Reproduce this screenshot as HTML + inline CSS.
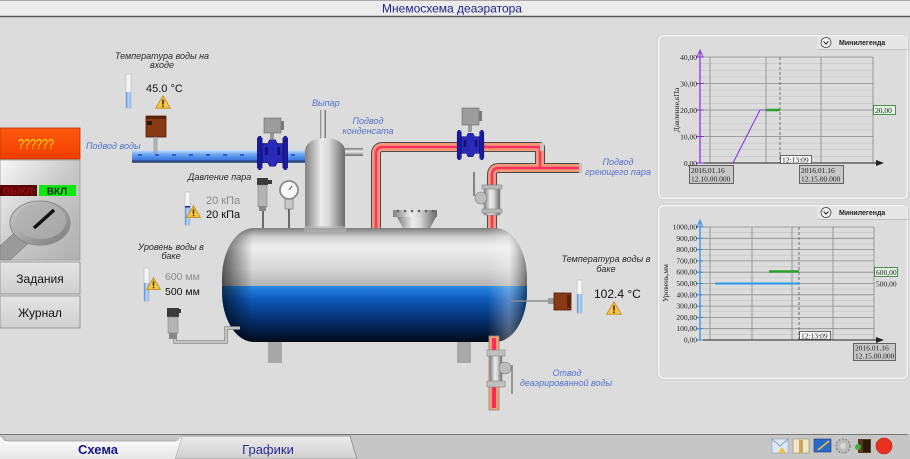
<!DOCTYPE html>
<html><head><meta charset="utf-8"><style>
html,body{margin:0;padding:0;width:910px;height:459px;overflow:hidden;background:#dcdcdc}
svg{display:block}
text{font-family:"Liberation Sans",sans-serif}
.it{font-style:italic;font-size:9px;fill:#2a2a2a}
.bl{font-style:italic;font-size:9px;fill:#5470d0}
.ser{font-family:"Liberation Serif",serif;font-size:7.5px;fill:#222}
</style></head><body>
<svg width="910" height="459" viewBox="0 0 910 459" xmlns="http://www.w3.org/2000/svg">
<defs>
<linearGradient id="tankTop" x1="0" y1="228" x2="0" y2="287" gradientUnits="userSpaceOnUse">
<stop offset="0" stop-color="#7c7c7c"/><stop offset="0.15" stop-color="#d0d0d0"/><stop offset="0.32" stop-color="#eeeeee"/><stop offset="0.7" stop-color="#d6d6d6"/><stop offset="1" stop-color="#b0b0b0"/></linearGradient>
<linearGradient id="tankBlue" x1="0" y1="286" x2="0" y2="342" gradientUnits="userSpaceOnUse">
<stop offset="0" stop-color="#2a86e6"/><stop offset="0.25" stop-color="#0c58b8"/><stop offset="0.6" stop-color="#063070"/><stop offset="1" stop-color="#010a1a"/></linearGradient>
<linearGradient id="tankEnd" x1="222" y1="0" x2="527" y2="0" gradientUnits="userSpaceOnUse">
<stop offset="0" stop-color="#000" stop-opacity="0.6"/><stop offset="0.1" stop-color="#000" stop-opacity="0"/><stop offset="0.87" stop-color="#fff" stop-opacity="0"/><stop offset="0.94" stop-color="#fff" stop-opacity="0.3"/><stop offset="1" stop-color="#000" stop-opacity="0.45"/></linearGradient>
<linearGradient id="cyl" x1="0" y1="0" x2="1" y2="0">
<stop offset="0" stop-color="#808080"/><stop offset="0.4" stop-color="#ececec"/><stop offset="0.6" stop-color="#d8d8d8"/><stop offset="1" stop-color="#6a6a6a"/></linearGradient>
<linearGradient id="cylV" x1="0" y1="0" x2="0" y2="1">
<stop offset="0" stop-color="#7a7a7a"/><stop offset="0.45" stop-color="#eeeeee"/><stop offset="1" stop-color="#6a6a6a"/></linearGradient>
<linearGradient id="bpipe" x1="0" y1="0" x2="0" y2="1">
<stop offset="0" stop-color="#c8e0fa"/><stop offset="0.35" stop-color="#6aa6f0"/><stop offset="0.75" stop-color="#3c7ae0"/><stop offset="0.85" stop-color="#24407a"/><stop offset="1" stop-color="#5a6a88"/></linearGradient>
<linearGradient id="redbox" x1="0" y1="0" x2="0" y2="1">
<stop offset="0" stop-color="#ff5a10"/><stop offset="1" stop-color="#f03e00"/></linearGradient>
<linearGradient id="swp" x1="0" y1="0" x2="1" y2="1">
<stop offset="0" stop-color="#f8f8f8"/><stop offset="0.5" stop-color="#c8c8c8"/><stop offset="1" stop-color="#b0b0b0"/></linearGradient>
<linearGradient id="btn" x1="0" y1="0" x2="0" y2="1">
<stop offset="0" stop-color="#e4e4e4"/><stop offset="1" stop-color="#cfcfcf"/></linearGradient>
<linearGradient id="knob" x1="0" y1="0" x2="1" y2="1">
<stop offset="0" stop-color="#d0d0d0"/><stop offset="1" stop-color="#7a7a7a"/></linearGradient>
<linearGradient id="tab1" x1="0" y1="0" x2="0" y2="1">
<stop offset="0" stop-color="#ffffff"/><stop offset="1" stop-color="#e6e6e6"/></linearGradient>
<linearGradient id="tab2" x1="0" y1="0" x2="0" y2="1">
<stop offset="0" stop-color="#ececec"/><stop offset="1" stop-color="#cfcfcf"/></linearGradient>
<linearGradient id="thermo" x1="0" y1="0" x2="1" y2="0">
<stop offset="0" stop-color="#5080c8"/><stop offset="0.4" stop-color="#b8d8f8"/><stop offset="1" stop-color="#8ab8e8"/></linearGradient>
<symbol id="warn" viewBox="0 0 16 14">
<polygon points="8,0.8 15.3,13.3 0.7,13.3" fill="#f6c848" stroke="#c89020" stroke-width="1"/>
<rect x="7.2" y="4.5" width="1.6" height="5" fill="#3a2a00"/><rect x="7.2" y="10.5" width="1.6" height="1.6" fill="#3a2a00"/>
</symbol>
<symbol id="bvalve" viewBox="0 0 32 36">
<rect x="0" y="2" width="5" height="32" fill="#1a1aa0" stroke="#0a0a60" stroke-width="0.6"/>
<rect x="27" y="2" width="5" height="32" fill="#1a1aa0" stroke="#0a0a60" stroke-width="0.6"/>
<path d="M5 8 H11 L13 4 H19 L21 8 H27 V28 H21 L19 32 H13 L11 28 H5 Z" fill="#2a2ab8" stroke="#0a0a60" stroke-width="0.6"/>
<rect x="8" y="12" width="3" height="8" fill="#101070"/><rect x="21" y="12" width="3" height="8" fill="#101070"/>
<rect x="1" y="0" width="3" height="3" fill="#1a1aa0"/><rect x="28" y="0" width="3" height="3" fill="#1a1aa0"/>
<rect x="1" y="33" width="3" height="3" fill="#1a1aa0"/><rect x="28" y="33" width="3" height="3" fill="#1a1aa0"/>
</symbol>
</defs>

<!-- title bar -->
<rect x="0" y="0" width="910" height="16" fill="#ececec"/>
<line x1="0" y1="0.5" x2="910" y2="0.5" stroke="#a8a8a8"/>
<line x1="0" y1="16.5" x2="910" y2="16.5" stroke="#5a5a5a" stroke-width="1.5"/>
<text x="452" y="12.5" font-size="12" fill="#1e2488" text-anchor="middle">Мнемосхема деаэратора</text>

<!-- left panel -->
<rect x="0" y="128" width="80" height="31" fill="url(#redbox)" stroke="#b83000" stroke-width="0.8"/>
<text x="18" y="149" font-size="15" fill="#ffe600" textLength="36" lengthAdjust="spacingAndGlyphs">??????</text>
<rect x="0" y="160" width="80" height="100" fill="url(#swp)" stroke="#9a9a9a" stroke-width="0.8"/>
<rect x="0" y="185" width="37" height="11" fill="#5a0404"/>
<text x="18" y="194.5" font-size="10" font-weight="bold" fill="#9a0e0e" text-anchor="middle">ВЫКЛ</text>
<rect x="39" y="185" width="37" height="11" fill="#12e612"/>
<text x="57" y="194.5" font-size="10" font-weight="bold" fill="#053005" text-anchor="middle">ВКЛ</text>
<polygon points="0,246 24,224 36,236 10,260 0,260" fill="#9a9a9a" stroke="#7a7a7a" stroke-width="0.6"/>
<ellipse cx="40" cy="223" rx="30" ry="22" fill="url(#knob)" stroke="#8a8a8a"/>
<ellipse cx="41" cy="221" rx="25" ry="18" fill="#b0b0b0" opacity="0.8"/>
<line x1="34" y1="228" x2="54" y2="210" stroke="#111" stroke-width="3.5"/>
<rect x="0" y="262" width="80" height="32" fill="url(#btn)" stroke="#8a8a8a" stroke-width="0.8"/>
<text x="40" y="283" font-size="12" fill="#111" text-anchor="middle">Задания</text>
<rect x="0" y="296" width="80" height="32" fill="url(#btn)" stroke="#8a8a8a" stroke-width="0.8"/>
<text x="40" y="317" font-size="12" fill="#111" text-anchor="middle">Журнал</text>

<!-- water inlet pipe -->
<rect x="132" y="150" width="176" height="13" fill="url(#bpipe)"/>
<line x1="138" y1="155" x2="300" y2="155" stroke="#1a46c8" stroke-width="1.6" stroke-dasharray="4 13"/>
<text x="86" y="149" class="bl">Подвод воды</text>

<!-- inlet temperature -->
<text x="162" y="59" class="it" text-anchor="middle">Температура воды на</text>
<text x="162" y="68" class="it" text-anchor="middle">входе</text>
<rect x="126" y="74" width="5" height="34" fill="#f4f4f4" stroke="#b0b0b0" stroke-width="0.5"/>
<rect x="126" y="92" width="5" height="16" fill="url(#thermo)"/>
<text x="146" y="92" font-size="11" fill="#111">45.0 °С</text>
<use href="#warn" x="155" y="95" width="16" height="14"/>
<rect x="146" y="116" width="20" height="21" fill="#8a3a12" stroke="#4a1a04" stroke-width="0.8"/>
<rect x="146" y="116" width="20" height="3" fill="#5a2206"/>
<rect x="147" y="121" width="5" height="4" fill="#2a1a0a"/>
<rect x="154" y="137" width="3" height="16" fill="#b8b8b8" stroke="#7a7a7a" stroke-width="0.5"/>

<!-- water valve -->
<rect x="270" y="131" width="4" height="8" fill="#9a9a9a"/>
<rect x="264" y="118" width="17" height="15" fill="#9c9c9c" stroke="#6a6a6a" stroke-width="0.6"/>
<rect x="281" y="121" width="3" height="9" fill="#7a7a7a"/>
<use href="#bvalve" x="257" y="136" width="31" height="34"/>

<!-- deaerator column -->
<rect x="320" y="110" width="6" height="32" fill="url(#cyl)"/>
<rect x="343" y="148" width="20" height="8" fill="url(#cylV)"/>
<path d="M305 232 V152 Q305 139 325 138 Q345 139 345 152 V232 Z" fill="url(#cyl)"/>
<text x="312" y="106" class="bl">Выпар</text>
<text x="368" y="124" class="bl" text-anchor="middle">Подвод</text>
<text x="368" y="134" class="bl" text-anchor="middle">конденсата</text>

<!-- steam pipes -->
<g fill="none" stroke-linejoin="round">
<path d="M376 230 V154 Q376 147 383 147 H540 V168 M492 230 V175 Q492 168 499 168 H581" stroke="#4a4a4a" stroke-width="10"/>
<path d="M376 230 V154 Q376 147 383 147 H540 V168 M492 230 V175 Q492 168 499 168 H581" stroke="#f29a78" stroke-width="8"/>
<path d="M376 230 V154 Q376 147 383 147 H540 V168 M492 230 V175 Q492 168 499 168 H581" stroke="#ff3060" stroke-width="2.5"/>
</g>
<rect x="540" y="143" width="4" height="8" fill="#c8c8c8"/>
<rect x="579" y="163" width="3" height="10" fill="#c0c0c0"/>
<text x="618" y="165" class="bl" text-anchor="middle">Подвод</text>
<text x="618" y="175" class="bl" text-anchor="middle">греющего пара</text>
<!-- steam valve -->
<rect x="468" y="124" width="4" height="8" fill="#9a9a9a"/>
<rect x="462" y="108" width="17" height="17" fill="#9c9c9c" stroke="#6a6a6a" stroke-width="0.6"/>
<rect x="479" y="111" width="3" height="10" fill="#7a7a7a"/>
<use href="#bvalve" x="455" y="130" width="31" height="30"/>
<!-- gate valve on steam -->
<line x1="474" y1="172" x2="474" y2="196" stroke="#6a6a6a" stroke-width="1.5"/>
<rect x="484" y="185" width="16" height="30" fill="url(#cyl)" stroke="#888" stroke-width="0.5"/>
<rect x="482" y="185" width="20" height="4" fill="#b8b8b8" stroke="#777" stroke-width="0.5"/>
<rect x="482" y="209" width="20" height="4" fill="#b8b8b8" stroke="#777" stroke-width="0.5"/>
<circle cx="481" cy="198" r="6" fill="#bdbdbd" stroke="#777" stroke-width="0.6"/>

<!-- manhole -->
<path d="M397 217 H436 L428 232 H405 Z" fill="url(#cyl)"/>
<rect x="393" y="210" width="44" height="7" fill="url(#cyl)"/>
<g fill="#666"><circle cx="398" cy="211" r="1.3"/><circle cx="405" cy="211" r="1.3"/><circle cx="412" cy="211" r="1.3"/><circle cx="419" cy="211" r="1.3"/><circle cx="426" cy="211" r="1.3"/><circle cx="433" cy="211" r="1.3"/></g>

<!-- pressure instruments -->
<text x="188" y="180" class="it" font-size="9.5">Давление пара</text>
<rect x="185" y="192" width="5" height="33" fill="#f4f4f4" stroke="#b0b0b0" stroke-width="0.5"/>
<rect x="185" y="207" width="5" height="18" fill="url(#thermo)"/>
<rect x="185" y="206" width="5" height="1.5" fill="#1a2a9a"/>
<use href="#warn" x="186" y="205" width="15" height="13"/>
<text x="206" y="204" font-size="11" fill="#8a8a8a">20 кПа</text>
<text x="206" y="218" font-size="11" fill="#111">20 кПа</text>
<rect x="262" y="210" width="2" height="22" fill="#6a6a6a"/>
<rect x="257" y="178" width="11" height="7" fill="#3a3a3a"/>
<rect x="266" y="180" width="6" height="4" fill="#3a3a3a"/>
<rect x="258" y="185" width="9" height="22" fill="#b4b4b4" stroke="#777" stroke-width="0.5"/>
<rect x="259" y="206" width="7" height="5" fill="#888"/>
<rect x="288" y="200" width="2" height="32" fill="#6a6a6a"/>
<rect x="285" y="199" width="8" height="10" fill="#c8c8c8" stroke="#666" stroke-width="0.6"/>
<circle cx="289" cy="190" r="9" fill="#f8f8f8" stroke="#8a8a8a" stroke-width="1.8"/>
<line x1="289" y1="190" x2="292" y2="186" stroke="#333" stroke-width="0.8"/>

<!-- tank -->
<rect x="268" y="336" width="14" height="27" fill="#a8a8a8"/>
<rect x="457" y="336" width="14" height="27" fill="#a8a8a8"/>
<clipPath id="tc"><rect x="222" y="228" width="305" height="114" rx="32" ry="50"/></clipPath>
<g clip-path="url(#tc)">
<rect x="222" y="228" width="305" height="59" fill="url(#tankTop)"/>
<rect x="222" y="286" width="305" height="56" fill="url(#tankBlue)"/>
<rect x="222" y="228" width="305" height="114" fill="url(#tankEnd)"/>
</g>
<rect x="304" y="226" width="42" height="6" fill="#b8b8b8" opacity="0.6"/>

<!-- level -->
<text x="171" y="250" class="it" font-size="8.5" text-anchor="middle">Уровень воды в</text>
<text x="171" y="259" class="it" font-size="8.5" text-anchor="middle">баке</text>
<rect x="144" y="268" width="5" height="33" fill="#f4f4f4" stroke="#b0b0b0" stroke-width="0.5"/>
<rect x="144" y="283" width="5" height="18" fill="url(#thermo)"/>
<use href="#warn" x="146" y="277" width="15" height="13"/>
<text x="165" y="280" font-size="10.5" fill="#8a8a8a">600 мм</text>
<text x="165" y="295" font-size="10.5" fill="#111">500 мм</text>
<path d="M175 338 V342 H226 V328 H240" fill="none" stroke="#8a8a8a" stroke-width="3.5"/>
<path d="M175 338 V342 H226 V328 H240" fill="none" stroke="#d8d8d8" stroke-width="1.5"/>
<rect x="167" y="308" width="12" height="9" fill="#3a3a3a"/>
<rect x="176" y="309" width="5" height="4" fill="#3a3a3a"/>
<rect x="168" y="317" width="10" height="16" fill="#b4b4b4" stroke="#777" stroke-width="0.5"/>
<rect x="169" y="333" width="8" height="6" fill="#888"/>

<!-- tank temperature -->
<text x="606" y="262" class="it" text-anchor="middle">Температура воды в</text>
<text x="606" y="272" class="it" text-anchor="middle">баке</text>
<line x1="510" y1="301" x2="553" y2="301" stroke="#8a8a8a" stroke-width="1.5"/>
<rect x="548" y="298" width="6" height="6" fill="#9a9a9a"/>
<rect x="554" y="293" width="17" height="17" fill="#8a3a12" stroke="#4a1a04" stroke-width="0.8"/>
<rect x="567" y="295" width="4" height="13" fill="#5a2206"/>
<rect x="577" y="280" width="5" height="33" fill="#f4f4f4" stroke="#b0b0b0" stroke-width="0.5"/>
<rect x="577" y="294" width="5" height="19" fill="url(#thermo)"/>
<text x="594" y="298" font-size="12" fill="#111">102.4 °С</text>
<use href="#warn" x="606" y="301" width="16" height="14"/>

<!-- outlet -->
<rect x="489" y="336" width="10" height="74" fill="#f2a070" stroke="#8a8a8a" stroke-width="0.8"/>
<rect x="492" y="338" width="4" height="70" fill="#ff2a58"/>
<rect x="490" y="355" width="12" height="32" fill="url(#cyl)" stroke="#888" stroke-width="0.5"/>
<rect x="487" y="350" width="18" height="6" fill="#c0c0c0" stroke="#777" stroke-width="0.5"/>
<rect x="487" y="381" width="18" height="6" fill="#c0c0c0" stroke="#777" stroke-width="0.5"/>
<circle cx="505" cy="368" r="6" fill="#bdbdbd" stroke="#777" stroke-width="0.6"/>
<line x1="512" y1="365" x2="512" y2="394" stroke="#6a6a6a" stroke-width="1.2"/>
<text x="567" y="376" class="bl" text-anchor="middle">Отвод</text>
<text x="566" y="386" class="bl" text-anchor="middle">деаэрированной воды</text>

<!-- chart panel 1 -->
<rect x="658.5" y="35.5" width="249" height="163" rx="5" fill="#dcdcdc" stroke="#f6f6f6" stroke-width="1.5"/>
<rect x="657.5" y="34.5" width="251" height="165" rx="6" fill="none" stroke="#c4c4c4" stroke-width="0.6"/>
<rect x="817" y="36" width="91" height="13" fill="#e6e6e6"/>
<line x1="817" y1="49.5" x2="908" y2="49.5" stroke="#c0c0c0"/>
<circle cx="826" cy="42.5" r="5" fill="#f4f4f4" stroke="#444" stroke-width="0.8"/>
<path d="M823.5 41.5 L826 44 L828.5 41.5" fill="none" stroke="#222" stroke-width="1"/>
<text x="839" y="45" font-size="7" font-weight="bold" fill="#222">Минилегенда</text>
<g stroke="#c2c2c2" stroke-width="0.6">
<line x1="700" y1="63.6" x2="873" y2="63.6"/><line x1="700" y1="70.25" x2="873" y2="70.25"/><line x1="700" y1="76.9" x2="873" y2="76.9"/>
<line x1="700" y1="90.1" x2="873" y2="90.1"/><line x1="700" y1="96.75" x2="873" y2="96.75"/><line x1="700" y1="103.4" x2="873" y2="103.4"/>
<line x1="700" y1="116.6" x2="873" y2="116.6"/><line x1="700" y1="123.25" x2="873" y2="123.25"/><line x1="700" y1="129.9" x2="873" y2="129.9"/>
<line x1="700" y1="143.1" x2="873" y2="143.1"/><line x1="700" y1="149.75" x2="873" y2="149.75"/><line x1="700" y1="156.4" x2="873" y2="156.4"/>
</g>
<g stroke="#8a8a8a" stroke-width="0.8">
<line x1="700" y1="57" x2="873" y2="57"/><line x1="700" y1="83.5" x2="873" y2="83.5"/><line x1="700" y1="110" x2="873" y2="110"/><line x1="700" y1="136.5" x2="873" y2="136.5"/>
<line x1="710" y1="57" x2="710" y2="163"/><line x1="766" y1="57" x2="766" y2="163"/><line x1="821" y1="57" x2="821" y2="163"/><line x1="873" y1="57" x2="873" y2="163"/>
</g>
<line x1="780" y1="57" x2="780" y2="163" stroke="#666" stroke-width="0.9" stroke-dasharray="3 2"/>
<line x1="700" y1="163" x2="880" y2="163" stroke="#222" stroke-width="1"/>
<polygon points="876,160 884,163 876,166" fill="#222"/>
<line x1="700" y1="52" x2="700" y2="163" stroke="#8a2ae0" stroke-width="1.2"/>
<polygon points="697,57 700,50 703,57" fill="none" stroke="#8a2ae0" stroke-width="0.9"/>
<g stroke="#8a2ae0" stroke-width="1"><line x1="696" y1="57" x2="704" y2="57"/><line x1="696" y1="83.5" x2="704" y2="83.5"/><line x1="696" y1="110" x2="704" y2="110"/><line x1="696" y1="136.5" x2="704" y2="136.5"/><line x1="696" y1="163" x2="704" y2="163"/></g>
<polyline points="733,163 760,110 766,110" fill="none" stroke="#8a2ae0" stroke-width="1"/>
<line x1="766" y1="110" x2="780" y2="110" stroke="#2aa02a" stroke-width="2.5"/>
<g text-anchor="end">
<text x="697" y="60" class="ser">40,00</text><text x="697" y="86.5" class="ser">30,00</text><text x="697" y="113" class="ser">20,00</text><text x="697" y="139.5" class="ser">10,00</text><text x="697" y="166" class="ser">0,00</text>
</g>
<text transform="translate(679,110) rotate(-90)" class="ser" text-anchor="middle">Давление,кПа</text>
<rect x="873.5" y="105.5" width="22" height="9" fill="#e4f4e4" stroke="#2a7a2a" stroke-width="0.8"/>
<text x="875" y="113" class="ser">20,00</text>
<rect x="780.5" y="155.5" width="31" height="8" fill="#f8f8f8" stroke="#333" stroke-width="0.7"/>
<text x="782" y="162.5" class="ser">12:13:09</text>
<rect x="689.5" y="165.5" width="44" height="18" fill="#c8c8c8" stroke="#333" stroke-width="0.7"/>
<text x="691" y="173" class="ser">2016.01.16</text><text x="691" y="181.5" class="ser">12.10.00.000</text>
<rect x="799.5" y="165.5" width="44" height="18" fill="#c8c8c8" stroke="#333" stroke-width="0.7"/>
<text x="801" y="173" class="ser">2016.01.16</text><text x="801" y="181.5" class="ser">12.15.00.000</text>

<!-- chart panel 2 -->
<rect x="658.5" y="205.5" width="249" height="173" rx="5" fill="#dcdcdc" stroke="#f6f6f6" stroke-width="1.5"/>
<rect x="657.5" y="204.5" width="251" height="175" rx="6" fill="none" stroke="#c4c4c4" stroke-width="0.6"/>
<rect x="817" y="206" width="91" height="13" fill="#e6e6e6"/>
<line x1="817" y1="219.5" x2="908" y2="219.5" stroke="#c0c0c0"/>
<circle cx="826" cy="212.5" r="5" fill="#f4f4f4" stroke="#444" stroke-width="0.8"/>
<path d="M823.5 211.5 L826 214 L828.5 211.5" fill="none" stroke="#222" stroke-width="1"/>
<text x="839" y="215" font-size="7" font-weight="bold" fill="#222">Минилегенда</text>
<g stroke="#c2c2c2" stroke-width="0.6">
<line x1="700" y1="232.6" x2="874" y2="232.6"/><line x1="700" y1="243.9" x2="874" y2="243.9"/><line x1="700" y1="255.2" x2="874" y2="255.2"/><line x1="700" y1="266.5" x2="874" y2="266.5"/><line x1="700" y1="277.8" x2="874" y2="277.8"/><line x1="700" y1="289.1" x2="874" y2="289.1"/><line x1="700" y1="300.4" x2="874" y2="300.4"/><line x1="700" y1="311.7" x2="874" y2="311.7"/><line x1="700" y1="323" x2="874" y2="323"/><line x1="700" y1="334.3" x2="874" y2="334.3"/>
</g>
<g stroke="#8a8a8a" stroke-width="0.8">
<line x1="700" y1="227" x2="874" y2="227"/><line x1="700" y1="238.3" x2="874" y2="238.3"/><line x1="700" y1="249.6" x2="874" y2="249.6"/><line x1="700" y1="260.9" x2="874" y2="260.9"/><line x1="700" y1="272.2" x2="874" y2="272.2"/><line x1="700" y1="283.5" x2="874" y2="283.5"/><line x1="700" y1="294.8" x2="874" y2="294.8"/><line x1="700" y1="306.1" x2="874" y2="306.1"/><line x1="700" y1="317.4" x2="874" y2="317.4"/><line x1="700" y1="328.7" x2="874" y2="328.7"/>
<line x1="710" y1="227" x2="710" y2="340"/><line x1="752" y1="227" x2="752" y2="340"/><line x1="792" y1="227" x2="792" y2="340"/><line x1="833" y1="227" x2="833" y2="340"/><line x1="874" y1="227" x2="874" y2="340"/>
</g>
<line x1="799" y1="227" x2="799" y2="340" stroke="#666" stroke-width="0.9" stroke-dasharray="3 2"/>
<line x1="700" y1="340" x2="880" y2="340" stroke="#222" stroke-width="1"/>
<polygon points="876,337 884,340 876,343" fill="#222"/>
<line x1="700" y1="222" x2="700" y2="340" stroke="#2a8ae8" stroke-width="1.2"/>
<polygon points="697,227 700,220 703,227" fill="none" stroke="#2a8ae8" stroke-width="0.9"/>
<g stroke="#2a8ae8" stroke-width="1"><line x1="697" y1="227" x2="703" y2="227"/><line x1="697" y1="238.3" x2="703" y2="238.3"/><line x1="697" y1="249.6" x2="703" y2="249.6"/><line x1="697" y1="260.9" x2="703" y2="260.9"/><line x1="697" y1="272.2" x2="703" y2="272.2"/><line x1="697" y1="283.5" x2="703" y2="283.5"/><line x1="697" y1="294.8" x2="703" y2="294.8"/><line x1="697" y1="306.1" x2="703" y2="306.1"/><line x1="697" y1="317.4" x2="703" y2="317.4"/><line x1="697" y1="328.7" x2="703" y2="328.7"/><line x1="697" y1="340" x2="703" y2="340"/></g>
<line x1="715" y1="283.5" x2="799" y2="283.5" stroke="#2a9ae8" stroke-width="2"/>
<line x1="769" y1="271.5" x2="799" y2="271.5" stroke="#2aa02a" stroke-width="2.5"/>
<g text-anchor="end">
<text x="697" y="229.5" class="ser">1000,00</text><text x="697" y="240.8" class="ser">900,00</text><text x="697" y="252.1" class="ser">800,00</text><text x="697" y="263.4" class="ser">700,00</text><text x="697" y="274.7" class="ser">600,00</text><text x="697" y="286" class="ser">500,00</text><text x="697" y="297.3" class="ser">400,00</text><text x="697" y="308.6" class="ser">300,00</text><text x="697" y="319.9" class="ser">200,00</text><text x="697" y="331.2" class="ser">100,00</text><text x="697" y="342.5" class="ser">0,00</text>
</g>
<text transform="translate(668,283) rotate(-90)" class="ser" text-anchor="middle">Уровень,мм</text>
<rect x="874.5" y="267.5" width="23" height="9" fill="#e4f4e4" stroke="#2a7a2a" stroke-width="0.8"/>
<text x="876" y="275" class="ser">600,00</text>
<text x="876" y="286.5" class="ser">500,00</text>
<rect x="799.5" y="331.5" width="31" height="8" fill="#f8f8f8" stroke="#333" stroke-width="0.7"/>
<text x="801" y="338.5" class="ser">12:13:09</text>
<rect x="853.5" y="343.5" width="42" height="17" fill="#c8c8c8" stroke="#333" stroke-width="0.7"/>
<text x="855" y="350.5" class="ser">2016.01.16</text><text x="855" y="358.5" class="ser">12.15.00.000</text>

<!-- bottom bar -->
<rect x="0" y="434" width="910" height="25" fill="#c6c6c6"/>
<line x1="0" y1="434.5" x2="908" y2="434.5" stroke="#7a7a7a"/>
<path d="M182 436 H350 L357 459 H175 Z" fill="url(#tab2)" stroke="#8a8a8a" stroke-width="0.8"/>
<path d="M0 437 Q2 437 4 441 L178 441 L182 436 L175 459 H0 Z" fill="url(#tab1)"/>
<path d="M2 436 Q4 440 8 441 H176" fill="none" stroke="#9a9a9a" stroke-width="0.8"/>
<text x="98" y="454" font-size="13" font-weight="bold" fill="#16168a" text-anchor="middle">Схема</text>
<text x="268" y="454" font-size="13" fill="#2a2a9a" text-anchor="middle">Графики</text>
<!-- icons -->
<rect x="772" y="439" width="16" height="14" fill="#dce8f4" stroke="#8aa0c0" stroke-width="0.6"/>
<path d="M772 439 L780 446 L788 439" fill="none" stroke="#6a88b8" stroke-width="0.8"/>
<polygon points="782,447 786,453 778,453" fill="#f0c040"/>
<rect x="793" y="439" width="16" height="14" fill="#f0e6c8" stroke="#9a8a60" stroke-width="0.6"/>
<rect x="799" y="440" width="4" height="13" fill="#c8a860"/>
<rect x="814" y="439" width="17" height="13" fill="#2a6ac8" stroke="#1a3a7a" stroke-width="0.6"/>
<line x1="818" y1="450" x2="829" y2="441" stroke="#f0c040" stroke-width="1.5"/>
<circle cx="843" cy="446" r="7" fill="#bcbcbc" stroke="#8a8a8a" stroke-width="1.5" stroke-dasharray="2 1.5"/>
<circle cx="843" cy="446" r="3" fill="#d8d8d8"/>
<rect x="858" y="439" width="13" height="14" fill="#5a3a1a"/>
<rect x="863" y="440" width="7" height="12" fill="#2a1a0a"/>
<circle cx="858" cy="447" r="3" fill="#40b040"/>
<circle cx="884" cy="446" r="8" fill="#e83020" stroke="#b01a10" stroke-width="0.6"/>
</svg>
</body></html>
